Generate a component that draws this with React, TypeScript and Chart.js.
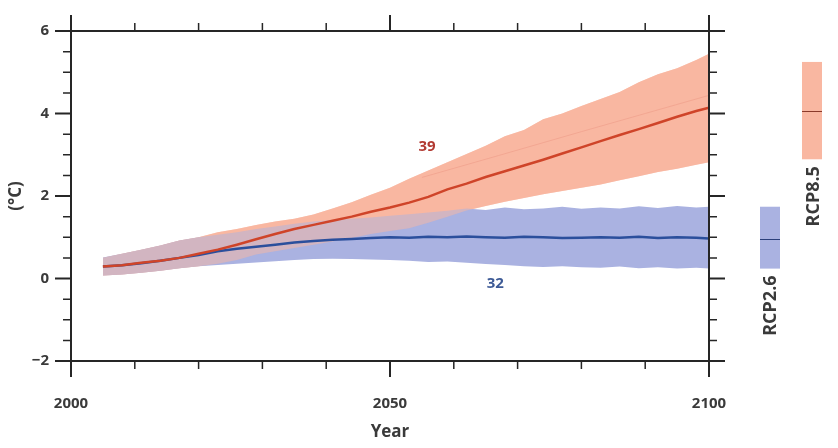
import React, { useEffect, useRef } from "react";
import { Chart, registerables } from "chart.js";

// per-dataset compositing (registered first so it runs before the filler)
const compositePlugin = {
  id: "bandComposite",
  beforeDatasetDraw(chart: any, args: any) {
    const op = chart.data.datasets[args.index].compositeOp;
    if (op) {
      chart.ctx.save();
      chart.ctx.globalCompositeOperation = op;
    }
  },
  afterDatasetDraw(chart: any, args: any) {
    const op = chart.data.datasets[args.index].compositeOp;
    if (op) chart.ctx.restore();
  },
};
Chart.register(compositePlugin as any);
Chart.register(...registerables);

// ---------- data ----------
const years = [
  2005, 2008, 2011, 2014, 2017, 2020, 2023, 2026, 2029, 2032, 2035, 2038, 2041, 2044, 2047, 2050, 2053,
  2056, 2059, 2062, 2065, 2068, 2071, 2074, 2077, 2080, 2083, 2086, 2089, 2092, 2095, 2098, 2100,
];

const rcp85Mean = [
  0.29, 0.32, 0.38, 0.43, 0.5, 0.6, 0.7, 0.82, 0.95, 1.08, 1.2, 1.3, 1.4, 1.5, 1.62, 1.72, 1.84,
  1.98, 2.16, 2.3, 2.46, 2.6, 2.74, 2.88, 3.03, 3.18, 3.33, 3.48, 3.62, 3.77, 3.92, 4.06, 4.14,
];
const rcp85Upper = [
  0.5, 0.6, 0.7, 0.8, 0.92, 1.0, 1.12, 1.2, 1.3, 1.38, 1.45, 1.55, 1.7, 1.85, 2.03, 2.2, 2.42,
  2.62, 2.82, 3.02, 3.22, 3.45, 3.6, 3.86, 4.0, 4.18, 4.35, 4.52, 4.76, 4.95, 5.1, 5.3, 5.45,
];
const rcp85Lower = [
  0.07, 0.1, 0.14, 0.19, 0.25, 0.3, 0.36, 0.45, 0.58, 0.66, 0.74, 0.82, 0.9, 0.98, 1.08, 1.15, 1.22,
  1.35, 1.5, 1.65, 1.76, 1.86, 1.95, 2.04, 2.12, 2.2, 2.28, 2.38, 2.48, 2.58, 2.66, 2.76, 2.82,
];

const rcp26Mean = [
  0.29, 0.32, 0.37, 0.43, 0.5, 0.57, 0.66, 0.72, 0.77, 0.82, 0.87, 0.91, 0.94, 0.96, 0.98, 1.0, 0.99,
  1.01, 1.0, 1.02, 1.0, 0.99, 1.01, 1.0, 0.98, 0.99, 1.0, 0.99, 1.01, 0.98, 1.0, 0.99, 0.97,
];
const rcp26Upper = [
  0.51, 0.6, 0.7, 0.8, 0.92, 1.0, 1.06, 1.12, 1.2, 1.26, 1.33, 1.38, 1.42, 1.45, 1.48, 1.52, 1.56,
  1.6, 1.64, 1.7, 1.66, 1.72, 1.68, 1.7, 1.74, 1.69, 1.72, 1.7, 1.75, 1.71, 1.76, 1.72, 1.74,
];
const rcp26Lower = [
  0.07, 0.1, 0.14, 0.19, 0.25, 0.3, 0.33, 0.36, 0.39, 0.42, 0.45, 0.47, 0.48, 0.47, 0.46, 0.45, 0.43,
  0.4, 0.41, 0.38, 0.35, 0.33, 0.3, 0.28, 0.3, 0.27, 0.26, 0.29, 0.25, 0.27, 0.24, 0.26, 0.24,
];

const faintYears = [2055, 2067, 2080, 2090, 2100];
const faintValues = [2.45, 2.98, 3.56, 4.0, 4.44];

// 2081-2100 range bars on the right: [low, mean, high]
const rcp85Bar = [2.89, 4.06, 5.25];
const rcp26Bar = [0.24, 0.96, 1.74];

// model counts
const countLabels = [
  { text: "39", x: 2055.8, y: 3.2, color: "#b23a32" },
  { text: "32", x: 2066.5, y: -0.12, color: "#3d5a96" },
];

// ticks
const xMajorTicks = [2000, 2050, 2100];
const xMinorTicks = [2010, 2020, 2030, 2040, 2060, 2070, 2080, 2090];
const yMajorTicks = [-2, 0, 2, 4, 6];
const yMinorTicks = [-1.5, -1, -0.5, 0.5, 1, 1.5, 2.5, 3, 3.5, 4.5, 5, 5.5];

// ---------- styling ----------
const FONT = '"Open Sans", "DejaVu Sans", sans-serif';
const TEXT = "#3a3a3a";
const AXIS = "#262626";
const RED_LINE = "#cf4429";
const BLUE_LINE = "#2b4f9c";
const RED_BAND = "rgb(249,183,161)";
const RED_BAND_HALF = "rgba(249,183,161,0.5)";
const BLUE_BAND = "rgb(170,178,225)";

const pts = (xs: number[], ys: number[]) => xs.map((x, i) => ({ x, y: ys[i] }));

const framePlugin = {
  id: "frameTicks",
  afterDraw(chart: any) {
    const { ctx, chartArea, scales } = chart;
    const { left, right, top, bottom } = chartArea;
    const x = scales.x;
    const y = scales.y;
    ctx.save();
    ctx.strokeStyle = AXIS;
    ctx.lineCap = "butt";
    ctx.lineWidth = 2;
    ctx.beginPath();
    ctx.rect(left, top, right - left, bottom - top);
    ctx.stroke();

    const tick = (vals: number[], len: number, w: number) => {
      ctx.lineWidth = w;
      ctx.beginPath();
      for (const v of vals) {
        const px = x.getPixelForValue(v);
        ctx.moveTo(px, bottom);
        ctx.lineTo(px, bottom + len);
        ctx.moveTo(px, top);
        ctx.lineTo(px, top - len);
      }
      ctx.stroke();
    };
    const ytick = (vals: number[], len: number, w: number) => {
      ctx.lineWidth = w;
      ctx.beginPath();
      for (const v of vals) {
        const py = y.getPixelForValue(v);
        ctx.moveTo(left, py);
        ctx.lineTo(left - len, py);
        ctx.moveTo(right, py);
        ctx.lineTo(right + len, py);
      }
      ctx.stroke();
    };
    tick(xMajorTicks, 16, 2);
    tick(xMinorTicks, 8, 1.5);
    ytick(yMajorTicks, 16, 2);
    ytick(yMinorTicks, 8, 1.5);

    // range bars on the right
    const bar = (vals: number[], x0: number, fill: string, line: string) => {
      const yLo = y.getPixelForValue(vals[0]);
      const yMid = y.getPixelForValue(vals[1]);
      const yHi = y.getPixelForValue(vals[2]);
      ctx.fillStyle = fill;
      ctx.fillRect(x0, yHi, 20, yLo - yHi);
      ctx.strokeStyle = line;
      ctx.lineWidth = 1;
      ctx.beginPath();
      ctx.moveTo(x0, Math.round(yMid) + 0.5);
      ctx.lineTo(x0 + 20, Math.round(yMid) + 0.5);
      ctx.stroke();
      return yLo;
    };
    const lo85 = bar(rcp85Bar, right + 93, RED_BAND, "#8a3a2a");
    const lo26 = bar(rcp26Bar, right + 51, BLUE_BAND, "#2b3f7a");

    const vtext = (t: string, cx: number, cy: number) => {
      ctx.save();
      ctx.translate(cx, cy);
      ctx.rotate(-Math.PI / 2);
      ctx.fillStyle = TEXT;
      ctx.font = `bold 18px ${FONT}`;
      ctx.textAlign = "center";
      ctx.textBaseline = "middle";
      ctx.fillText(t, 0, 0);
      ctx.restore();
    };
    vtext("RCP8.5", right + 105, lo85 + 37);
    vtext("RCP2.6", right + 62, lo26 + 37);

    // counts
    ctx.font = `bold 15px ${FONT}`;
    ctx.textAlign = "center";
    ctx.textBaseline = "middle";
    for (const l of countLabels) {
      ctx.fillStyle = l.color;
      ctx.fillText(l.text, x.getPixelForValue(l.x), y.getPixelForValue(l.y));
    }
    ctx.restore();
  },
};

const bandBase = {
  borderWidth: 0,
  borderColor: "rgba(0,0,0,0)",
  pointRadius: 0,
};

export default function App() {
  const ref = useRef<HTMLCanvasElement | null>(null);

  useEffect(() => {
    if (!ref.current) return;
    const chart = new Chart(ref.current, {
      type: "line",
      data: {
        datasets: [
          {
            label: "RCP8.5 mean",
            data: pts(years, rcp85Mean),
            borderColor: RED_LINE,
            borderWidth: 2.5,
            pointRadius: 0,
            fill: false,
            order: 0,
          },
          {
            label: "RCP2.6 mean",
            data: pts(years, rcp26Mean),
            borderColor: BLUE_LINE,
            borderWidth: 2.5,
            pointRadius: 0,
            fill: false,
            order: 0,
          },
          {
            label: "faint",
            data: pts(faintYears, faintValues),
            borderColor: "rgba(240,160,140,0.7)",
            borderWidth: 1,
            pointRadius: 0,
            fill: false,
            order: 1,
          },
          {
            // RCP8.5 range, half-strength pass (blends with the RCP2.6 range)
            ...bandBase,
            label: "RCP8.5 upper",
            data: pts(years, rcp85Upper),
            backgroundColor: RED_BAND_HALF,
            fill: 6,
            order: 3,
          },
          {
            // RCP8.5 range, full-strength pass painted behind
            ...bandBase,
            label: "RCP8.5 upper (behind)",
            data: pts(years, rcp85Upper),
            backgroundColor: RED_BAND,
            fill: 6,
            order: 2,
            compositeOp: "destination-over",
          },
          {
            ...bandBase,
            label: "RCP2.6 upper",
            data: pts(years, rcp26Upper),
            backgroundColor: BLUE_BAND,
            fill: 7,
            order: 4,
          },
          {
            ...bandBase,
            label: "RCP8.5 lower",
            data: pts(years, rcp85Lower),
            fill: false,
            order: 7,
          },
          {
            ...bandBase,
            label: "RCP2.6 lower",
            data: pts(years, rcp26Lower),
            fill: false,
            order: 8,
          },
        ],
      },
      options: {
        animation: false,
        responsive: false,
        maintainAspectRatio: false,
        layout: { padding: { top: 26, right: 129, left: 0, bottom: 0 } },
        plugins: { legend: { display: false }, tooltip: { enabled: false } },
        elements: { line: { tension: 0 } },
        scales: {
          x: {
            type: "linear",
            min: 2000,
            max: 2100,
            grid: { display: false, drawTicks: false },
            border: { display: false },
            afterBuildTicks: (s: any) => {
              s.ticks = xMajorTicks.map((v) => ({ value: v }));
            },
            afterFit: (s: any) => {
              s.height = 87;
            },
            ticks: {
              padding: 34,
              color: TEXT,
              font: { family: FONT, size: 15, weight: "bold" },
              maxRotation: 0,
              callback: (v: any) => String(v),
            },
            title: {
              display: true,
              text: "Year",
              color: TEXT,
              font: { family: FONT, size: 17, weight: "bold" },
              padding: { top: 0, bottom: 6 },
            },
          },
          y: {
            type: "linear",
            min: -2,
            max: 6,
            grid: { display: false, drawTicks: false },
            border: { display: false },
            afterBuildTicks: (s: any) => {
              s.ticks = yMajorTicks.map((v) => ({ value: v }));
            },
            afterFit: (s: any) => {
              s.width = 71;
            },
            ticks: {
              padding: 22,
              color: TEXT,
              font: { family: FONT, size: 15, weight: "bold" },
              callback: (v: any) => String(v).replace("-", "\u2212"),
            },
            title: {
              display: true,
              text: "(°C)",
              color: TEXT,
              font: { family: FONT, size: 17, weight: "bold" },
              padding: { top: 6, bottom: 0 },
            },
          },
        },
      },
      plugins: [framePlugin],
    } as any);
    return () => chart.destroy();
  }, []);

  return (
    <div style={{ position: "fixed", left: 0, top: 0, width: 838, height: 448, background: "#fff" }}>
      <canvas ref={ref} width={838} height={448} style={{ display: "block" }} />
    </div>
  );
}
